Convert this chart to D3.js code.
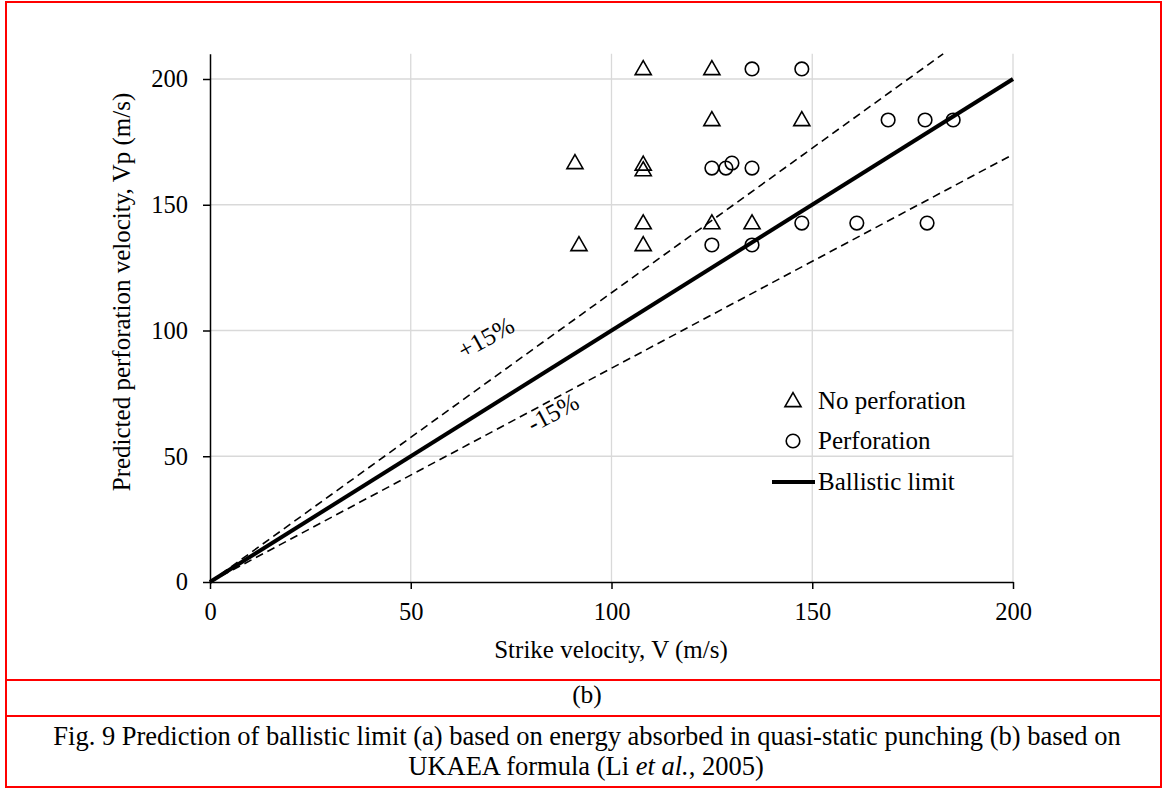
<!DOCTYPE html>
<html>
<head>
<meta charset="utf-8">
<script src="https://cdn.jsdelivr.net/npm/d3@7"></script>
<style>
  html, body { margin: 0; padding: 0; background: #fff; }
  svg { display: block; }
  text { font-family: "Liberation Serif", "Times New Roman", serif; fill: #000; }
</style>
</head>
<body>
<svg id="chart" width="1162" height="789"></svg>
<script>
// ---- Data ----
const noPerfV  = [107.9, 125.0, 125.0, 147.4, 90.9, 107.9, 107.9, 107.9, 125.0, 135.0, 91.9, 107.9];
const noPerfVp = [204.0, 204.0, 183.7, 183.7, 166.6, 166.0, 163.8, 142.7, 142.7, 142.7, 134.0, 134.0];

const perfV  = [135.0, 147.4, 168.9, 178.1, 185.1, 125.0, 128.5, 130.0, 135.0, 147.4, 161.1, 178.6, 125.0, 135.0];
const perfVp = [204.0, 204.0, 183.7, 183.7, 183.7, 164.6, 164.6, 166.6, 164.6, 142.7, 142.7, 142.7, 134.0, 134.0];

const ballisticLine = [[0, 0], [200, 200]];
const plusLine  = [[0, 0], [210 / 1.15, 210]];
const minusLine = [[0, 0], [200, 170]];

const xTicks = [0, 50, 100, 150, 200];
const yTicks = [0, 50, 100, 150, 200];

const xTitle = "Strike velocity, V (m/s)";
const yTitle = "Predicted perforation velocity, Vp (m/s)";
const legendLabels = ["No perforation", "Perforation", "Ballistic limit"];
const subLabel = "(b)";

// ---- Layout ----
const svg = d3.select("#chart");
const x = d3.scaleLinear().domain([0, 200]).range([210, 1013]);
const y = d3.scaleLinear().domain([0, 210]).range([582, 53.85]);
const FS = 25;
const CFS = 26.5;

// red frame
const red = "#ff0000";
svg.append("rect").attr("x", 6).attr("y", 2).attr("width", 1155).attr("height", 785)
  .attr("fill", "none").attr("stroke", red).attr("stroke-width", 2);
svg.append("line").attr("x1", 6).attr("x2", 1162).attr("y1", 680).attr("y2", 680).attr("stroke", red).attr("stroke-width", 2);
svg.append("line").attr("x1", 6).attr("x2", 1162).attr("y1", 716).attr("y2", 716).attr("stroke", red).attr("stroke-width", 2);

// gridlines
const grid = svg.append("g");
grid.selectAll(".hg").data(yTicks.filter(d => d > 0)).join("line")
  .attr("x1", x(0)).attr("x2", x(200)).attr("y1", d => y(d)).attr("y2", d => y(d))
  .attr("stroke", "#d9d9d9").attr("stroke-width", 1.3);
grid.selectAll(".vg").data(xTicks.filter(d => d > 0)).join("line")
  .attr("x1", d => x(d)).attr("x2", d => x(d)).attr("y1", y(0)).attr("y2", y(210))
  .attr("stroke", "#d9d9d9").attr("stroke-width", 1.3);

// axes
const xAxis = svg.append("g").attr("transform", `translate(0,${y(0)})`)
  .call(d3.axisBottom(x).tickValues(xTicks).tickSize(7).tickPadding(14).tickSizeOuter(0));
const yAxis = svg.append("g").attr("transform", `translate(${x(0)},0)`)
  .call(d3.axisLeft(y).tickValues(yTicks).tickSize(7).tickPadding(15).tickSizeOuter(0));
[xAxis, yAxis].forEach(a => {
  a.select(".domain").attr("stroke", "#000").attr("stroke-width", 1.5);
  a.selectAll(".tick line").attr("stroke", "#000").attr("stroke-width", 1.5);
  a.selectAll(".tick text").attr("font-family", "Liberation Serif").attr("font-size", 24.5).attr("fill", "#000");
});

// lines
const line = d3.line().x(d => x(d[0])).y(d => y(d[1]));
svg.append("path").attr("d", line(plusLine)).attr("fill", "none")
  .attr("stroke", "#000").attr("stroke-width", 1.6).attr("stroke-dasharray", "8,5");
svg.append("path").attr("d", line(minusLine)).attr("fill", "none")
  .attr("stroke", "#000").attr("stroke-width", 1.6).attr("stroke-dasharray", "8,5");
svg.append("path").attr("d", line(ballisticLine)).attr("fill", "none")
  .attr("stroke", "#000").attr("stroke-width", 4);

// markers
const tri = d3.symbol().type(d3.symbolTriangle).size(112);
svg.append("g").selectAll("path").data(noPerfV.map((v, i) => [v, noPerfVp[i]])).join("path")
  .attr("d", tri).attr("transform", d => `translate(${x(d[0])},${y(d[1]) + 1})`)
  .attr("fill", "none").attr("stroke", "#000").attr("stroke-width", 1.6);
svg.append("g").selectAll("circle").data(perfV.map((v, i) => [v, perfVp[i]])).join("circle")
  .attr("cx", d => x(d[0])).attr("cy", d => y(d[1])).attr("r", 6.8)
  .attr("fill", "none").attr("stroke", "#000").attr("stroke-width", 1.6);

// +/-15% labels
svg.append("text").attr("transform", "translate(490,345) rotate(-29)")
  .attr("text-anchor", "middle").attr("font-size", FS).text("+15%");
svg.append("text").attr("transform", "translate(557,420) rotate(-28)")
  .attr("text-anchor", "middle").attr("font-size", FS).text("-15%");

// legend
const lg = svg.append("g");
lg.append("path").attr("d", tri).attr("transform", "translate(793,402)")
  .attr("fill", "none").attr("stroke", "#000").attr("stroke-width", 1.6);
lg.append("circle").attr("cx", 793).attr("cy", 441).attr("r", 6.8)
  .attr("fill", "none").attr("stroke", "#000").attr("stroke-width", 1.6);
lg.append("line").attr("x1", 772).attr("x2", 815).attr("y1", 482).attr("y2", 482)
  .attr("stroke", "#000").attr("stroke-width", 4);
lg.selectAll("text").data(legendLabels).join("text")
  .attr("x", 818).attr("y", (d, i) => [409, 449, 490][i]).attr("font-size", FS).text(d => d);

// axis titles
svg.append("text").attr("x", 611).attr("y", 658).attr("text-anchor", "middle")
  .attr("font-size", FS).text(xTitle);
svg.append("text").attr("transform", "translate(130,292) rotate(-90)").attr("text-anchor", "middle")
  .attr("font-size", FS).text(yTitle);

// caption
svg.append("text").attr("x", 587).attr("y", 703).attr("text-anchor", "middle")
  .attr("font-size", 25.5).text(subLabel);
svg.append("text").attr("x", 587).attr("y", 745).attr("text-anchor", "middle")
  .attr("font-size", CFS).text("Fig. 9 Prediction of ballistic limit (a) based on energy absorbed in quasi-static punching (b) based on");
const cap2 = svg.append("text").attr("x", 586).attr("y", 775).attr("text-anchor", "middle").attr("font-size", CFS);
cap2.append("tspan").text("UKAEA formula (Li ");
cap2.append("tspan").attr("font-style", "italic").text("et al.");
cap2.append("tspan").text(", 2005)");
</script>
</body>
</html>
